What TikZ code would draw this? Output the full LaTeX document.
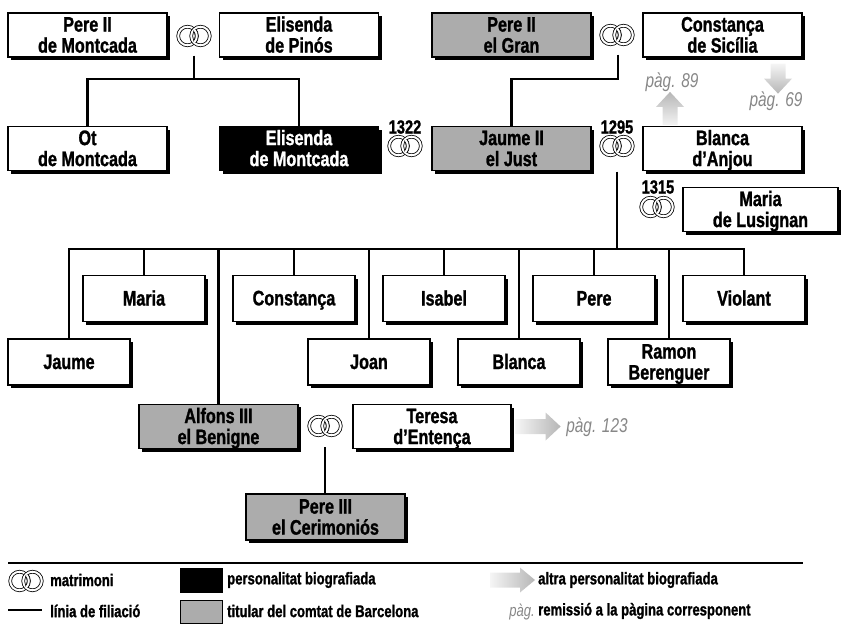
\documentclass[tikz,border=0pt]{standalone}
\usepackage{fontspec}
\setmainfont[FakeStretch=0.77, BoldFeatures={FakeBold=1.2}]{Liberation Sans}
\usetikzlibrary{shadows,calc}
\definecolor{boxgray}{RGB}{172,172,172}
\definecolor{refgray}{RGB}{135,135,135}
\definecolor{arrgray}{RGB}{182,182,182}
\definecolor{arrlight}{RGB}{245,245,245}
\newcommand\twoln[2]{\rule{0pt}{18.6pt}#1\\#2\rule[-4.4pt]{0pt}{4.4pt}}
\newcommand\oneln[1]{\rule[-4pt]{0pt}{22pt}#1}
\begin{document}
\begin{tikzpicture}[x=1pt,y=-1pt,
  person/.style={draw, line width=1.2pt, fill=white, minimum width=159pt, minimum height=44pt,
    inner sep=0pt, align=center, font=\fontsize{21}{21}\selectfont\bfseries,
    drop shadow={shadow xshift=3pt, shadow yshift=-3pt, fill=black, opacity=1}},
  child/.style={person, minimum width=122pt, minimum height=46pt},
  ruler/.style={fill=boxgray},
  bio/.style={fill=black, text=white},
  rings/.style={minimum width=36pt, minimum height=23pt, inner sep=0pt, path picture={
    \draw[line width=0.8pt, double=white, double distance=2pt]
      ([xshift=-6.5pt]path picture bounding box.center) circle (9.3pt);
    \draw[line width=0.8pt, double=white, double distance=2pt]
      ([xshift=6.5pt]path picture bounding box.center) circle (9.3pt);
    \draw[line width=0.8pt, double=white, double distance=2pt]
      ([xshift=-6.5pt]path picture bounding box.center) ++(-40:9.3pt) arc (-40:40:9.3pt);
  }},
  year/.style={inner sep=0pt, font=\fontsize{19}{19}\selectfont\bfseries},
  pref/.style={inner sep=0pt, text=refgray, font=\fontsize{20}{20}\selectfont\itshape},
  legtext/.style={inner sep=0pt, anchor=west, font=\fontsize{17}{18}\selectfont\bfseries},
  fil/.style={line width=2.6pt, line join=miter},
]
\useasboundingbox (0,0) rectangle (842,625);

% --- top generation
\node[person] (pm) at (87.5,35) {\twoln{Pere II}{de Montcada}};
\node[rings] (r1) at (194,36) {};
\node[person] (ep) at (299,35) {\twoln{Elisenda}{de Pinós}};

\node[person, ruler] (pg) at (511.5,35) {\twoln{Pere II}{el Gran}};
\node[rings] (r2) at (617,35) {};
\node[person] (cs) at (722.5,35) {\twoln{Constança}{de Sicília}};

% --- second generation
\node[person] (ot) at (87.5,148.5) {\twoln{Ot}{de Montcada}};
\node[person, bio] (em) at (299,148.5) {\twoln{Elisenda}{de Montcada}};
\node[year] (y1322) at (405,127) {1322};
\node[rings] (r1322) at (405,146) {};
\node[person, ruler] (j2) at (511.5,148.5) {\twoln{Jaume II}{el Just}};
\node[year] (y1295) at (617,127) {1295};
\node[rings] (r1295) at (617,146) {};
\node[person] (ba) at (722.5,148.5) {\twoln{Blanca}{d’Anjou}};
\node[year] (y1315) at (658,187) {1315};
\node[rings] (r1315) at (657,207) {};
\node[person, minimum width=155pt] (ml) at (760.5,209.5) {\twoln{Maria}{de Lusignan}};

% page references
\node[pref] (p89) at (672,82) {pàg. 89};
\node[pref] (p69) at (776,101) {pàg. 69};

% --- children
\node[child] (jaume) at (69,362) {\oneln{Jaume}};
\node[child] (maria) at (144,298.5) {\oneln{Maria}};
\node[child] (constanca) at (294,298.5) {\oneln{Constança}};
\node[child] (joan) at (369,362) {\oneln{Joan}};
\node[child] (isabel) at (444,298.5) {\oneln{Isabel}};
\node[child] (blanca) at (519,362) {\oneln{Blanca}};
\node[child] (pere) at (594,298.5) {\oneln{Pere}};
\node[child] (ramon) at (669,362) {\twoln{Ramon}{Berenguer}};
\node[child] (violant) at (744,298.5) {\oneln{Violant}};

\node[person, ruler] (alfons) at (218.5,426.5) {\twoln{Alfons III}{el Benigne}};
\node[rings] (r3) at (325,426) {};
\node[person, minimum width=158pt] (teresa) at (432,426.5) {\twoln{Teresa}{d’Entença}};
\node[pref] (p123) at (597,427) {pàg. 123};
\node[person, ruler, minimum height=46pt] (pere3) at (325.5,517) {\twoln{Pere III}{el Cerimoniós}};

% --- connectors
\coordinate (k1) at (194,79);
\coordinate (k2) at (618,79);
\coordinate (bar) at (0,249);
\draw[fil] ([yshift=-8pt]r1.south) -- (k1);
\draw[fil] (ot.north) -- (ot.north |- k1) -- (em.north |- k1) -- (em.north);
\draw[fil] ([yshift=-8pt]k2 |- r2.south) -- (k2) -- (j2.north |- k2) -- (j2.north);
\draw[fil] ([yshift=-14pt]r1295.south) -- (r1295.south |- bar);
\draw[fil] (jaume.north) -- (jaume.north |- bar) -- (violant.north |- bar) -- (violant.north);
\foreach \c in {maria,constanca,joan,isabel,blanca,pere,ramon}
  \draw[fil] (\c.north |- bar) -- (\c.north);
\draw[fil] (alfons.north |- bar) -- (alfons.north);
\draw[fil] ([yshift=-9.5pt]r3.south) -- (r3.south |- pere3.north);

% --- fat reference arrows
\coordinate (u89) at (670,0);
\coordinate (u69) at (778,0);
\shade[bottom color=arrlight, top color=arrgray]
  (ba.north -| u89) ++(-7.5,-1) -- ++(0,-18) -- ++(-6.5,0) -- ++(14,-15) -- ++(14,15)
  -- ++(-6.5,0) -- ++(0,18) -- cycle;
\shade[top color=arrlight, bottom color=arrgray]
  ([yshift=-6pt]cs.south -| u69) ++(-7.5,0) -- ++(0,15) -- ++(-6.5,0) -- ++(14,15) -- ++(14,-15)
  -- ++(-6.5,0) -- ++(0,-15) -- cycle;
\shade[left color=arrlight, right color=arrgray]
  ([xshift=4pt]teresa.east) ++(0,-7.5) -- ++(30,0) -- ++(0,-6.5) -- ++(15,14) -- ++(-15,14)
  -- ++(0,-6.5) -- ++(-30,0) -- cycle;

% --- legend
\draw[line width=1.2pt] (8,563) -- (803,563);
\node[rings] (lr) at (26,581) {};
\node[legtext] (lt1) at (50,580) {matrimoni};
\coordinate (ll) at (8,610);
\draw[fil] (ll) -- ++(34,0);
\node[legtext] (lt2) at (50,611) {línia de filiació};
\node[draw, line width=1pt, fill=black, minimum width=42pt, minimum height=24pt, inner sep=0pt] (lb1) at (201,580) {};
\node[legtext] (lt3) at (227,580) {personalitat biografiada};
\node[draw, line width=1pt, fill=boxgray, minimum width=42pt, minimum height=23pt, inner sep=0pt] (lb2) at (201,611.5) {};
\node[legtext] (lt4) at (227,611) {titular del comtat de Barcelona};
\coordinate (la) at (490,580);
\shade[left color=arrlight, right color=arrgray]
  (la) ++(0,-7.5) -- ++(30,0) -- ++(0,-5) -- ++(15,12.5) -- ++(-15,12.5)
  -- ++(0,-5) -- ++(-30,0) -- cycle;
\node[legtext] (lt5) at (538,580) {altra personalitat biografiada};
\node[pref, anchor=east, font=\fontsize{17}{18}\selectfont\itshape] (lp) at (535,612) {pàg.};
\node[legtext] (lt6) at (538,611) {remissió a la pàgina corresponent};
\end{tikzpicture}
\end{document}
